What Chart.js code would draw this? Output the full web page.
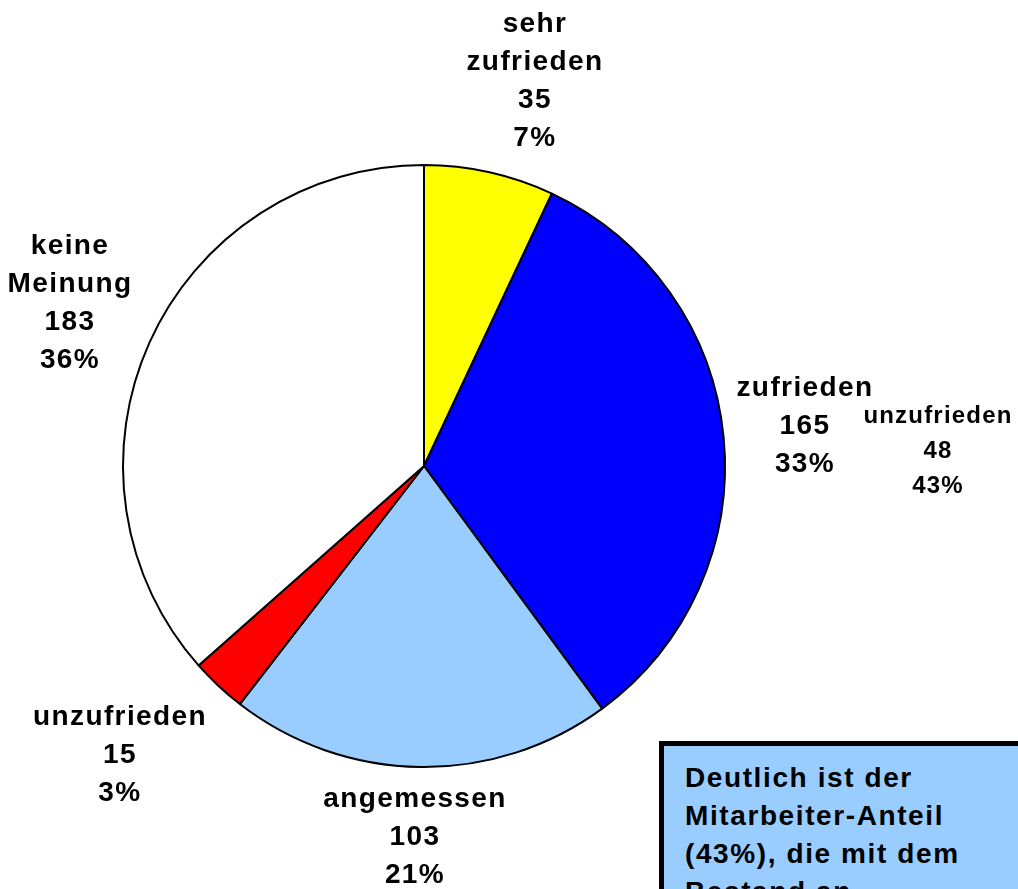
<!DOCTYPE html>
<html><head><meta charset="utf-8">
<script src="https://cdn.jsdelivr.net/npm/chart.js@4/dist/chart.umd.min.js"></script>
<style>
html,body{margin:0;padding:0;background:#fff;overflow:hidden;}
#wrap{position:relative;width:1018px;height:889px;overflow:hidden;}
#c{position:absolute;left:0;top:0;}
#note{position:absolute;left:659px;top:741px;width:400px;height:200px;box-sizing:border-box;
 background:#99CCFF;border:5px solid #000;padding:13px 0 0 21px;
 font:bold 28px "Liberation Sans",Arial,sans-serif;letter-spacing:1.6px;line-height:38px;color:#000;}
</style></head>
<body><div id="wrap"><canvas id="c" width="1018" height="889"></canvas>
<div id="note">Deutlich ist der<br>Mitarbeiter-Anteil<br>(43%), die mit dem<br>Bestand an</div></div>
<script>
const categories = ['sehr zufrieden','zufrieden','angemessen','unzufrieden','keine Meinung'];
const labelLines = [['sehr','zufrieden'],['zufrieden'],['angemessen'],['unzufrieden'],['keine','Meinung']];
const values = [35,165,103,15,183];
const percentLabels = ['7%','33%','21%','3%','36%'];
const colors = ['#FFFF00','#0000FF','#99CCFF','#FF0000','#FFFFFF'];
// label block centre offsets from pie centre
const labelDX = [111,381,-9,-304,-354];
const labelDY = [-385,-40,371,289,-163];
// stray label of an overlapping chart
const extraLines = ['unzufrieden','48','43%'];
const extraDX = 514, extraDY = -15;

const labelPlugin = {
  id:'labels',
  afterDraw(chart){
    const ctx = chart.ctx;
    const arc = chart.getDatasetMeta(0).data[0];
    const cx = arc.x, cy = arc.y;
    ctx.save();
    ctx.fillStyle = '#000';
    ctx.textAlign = 'center';
    ctx.textBaseline = 'middle';
    ctx.font = 'bold 28px "Liberation Sans", Arial, sans-serif';
    ctx.letterSpacing = '1.4px';
    values.forEach((v,i)=>{
      const lines = labelLines[i].concat([String(v), percentLabels[i]]);
      const lh = 38;
      const x = cx + labelDX[i], y0 = cy + labelDY[i] - (lines.length-1)*lh/2;
      lines.forEach((t,j)=>ctx.fillText(t, x, y0 + j*lh));
    });
    ctx.font = 'bold 24px "Liberation Sans", Arial, sans-serif';
    ctx.letterSpacing = '1.2px';
    const lh2 = 35;
    const y1 = cy + extraDY - (extraLines.length-1)*lh2/2;
    extraLines.forEach((t,j)=>ctx.fillText(t, cx+extraDX, y1 + j*lh2));
    ctx.restore();
  }
};

new Chart(document.getElementById('c'), {
  type:'pie',
  data:{labels:categories, datasets:[{data:values, backgroundColor:colors, borderColor:'#000', borderWidth:2, radius:301}]},
  options:{
    responsive:false, animation:false,
    layout:{padding:{left:0,right:170,top:43,bottom:0}},
    plugins:{legend:{display:false}, tooltip:{enabled:false}}
  },
  plugins:[labelPlugin]
});
</script></body></html>
